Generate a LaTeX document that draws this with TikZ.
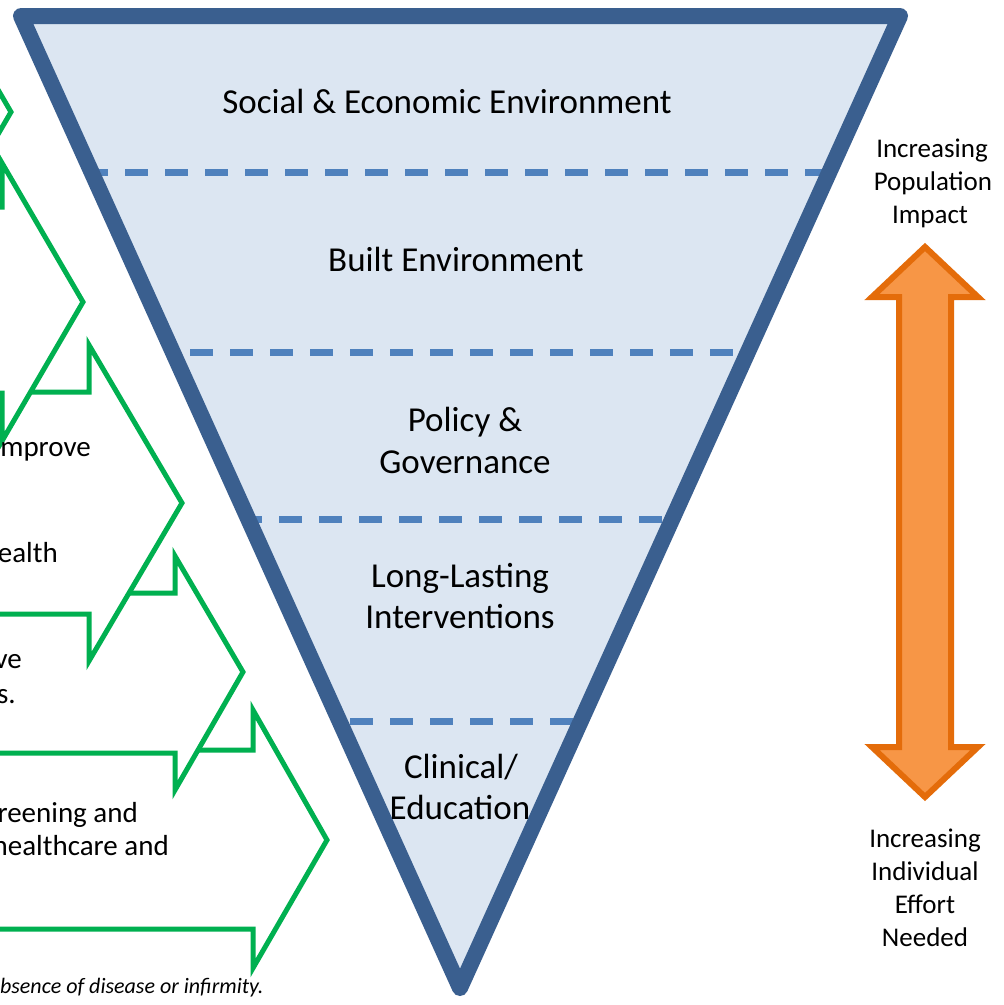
\documentclass[tikz,border=0pt]{standalone}
\usepackage{fontspec}
\setmainfont{Carlito}
\definecolor{triblue}{HTML}{3A5F8F}
\definecolor{trifill}{HTML}{DCE6F2}
\definecolor{dashblue}{HTML}{4F81BD}
\definecolor{grn}{HTML}{00B050}
\definecolor{orfill}{HTML}{F79646}
\definecolor{ordraw}{HTML}{E46C0A}
\begin{document}
\begin{tikzpicture}[x=1pt,y=-1pt,
  tierline/.style={draw=dashblue, line width=7pt, dash pattern=on 23pt off 17pt},
  greenarrow/.style={draw=grn, fill=white, line width=5pt, line join=miter},
  tiertext/.style={font=\fontsize{35}{42}\selectfont, anchor=base, inner sep=0pt},
  sidetext/.style={font=\fontsize{27}{33}\selectfont, anchor=base, inner sep=0pt},
  lefttext/.style={font=\fontsize{29}{36}\selectfont, anchor=base east, inner sep=0pt},
]
\useasboundingbox (0,0) rectangle (1004,1005);
\fill[white] (0,0) rectangle (1004,1005);

% green block arrows (cut off at the left edge), lower ones first
\draw[greenarrow] (-30,750) -- (253,750) -- (253,710) -- (327,840) -- (253,968) -- (253,929) -- (-30,929) -- cycle;
\draw[greenarrow] (-30,593) -- (175,593) -- (175,556) -- (243,672) -- (175,790) -- (175,753) -- (-30,753) -- cycle;
\draw[greenarrow] (-30,392) -- (89,392) -- (89,345) -- (182,503) -- (89,661) -- (89,614) -- (-30,614) -- cycle;
\draw[greenarrow] (-100,207) -- (2,207) -- (2,163) -- (83,302) -- (2,441) -- (2,393) -- (-100,393) -- cycle;
\draw[greenarrow] (-150,-30) -- (-70,-30) -- (-70,-27) -- (11,112) -- (-70,251) -- (-70,207) -- (-150,207) -- cycle;

% left text fragments
\node[lefttext] (t1) at (91,456) {mprove};
\node[lefttext] (t2) at (58,562) {ealth};
\node[lefttext] (t3) at (22,668) {ve};
\node[lefttext] (t4) at (16,703) {s.};
\node[lefttext] (t5) at (138,822) {reening and};
\node[lefttext] (t6) at (169,855) {healthcare and};
\node[font=\fontsize{22}{26}\selectfont\itshape, anchor=base west, inner sep=0pt] (t7) at (0,993) {bsence of disease or infirmity.};

% inverted triangle
\fill[trifill] (21,16) -- (900,16) -- (460,988) -- cycle;
\draw[tierline, dash phase=6pt] (91,172) -- (830,172);
\draw[tierline, dash phase=23pt] (173,352) -- (748,352);
\draw[tierline, dash phase=9pt] (248,519) -- (672,519);
\draw[tierline, dash phase=29pt] (339,721) -- (581,721);
\draw[triblue, line width=16pt, line join=round] (21,16) -- (900,16) -- (460,988) -- cycle;

% tier labels
\node[tiertext] (soc) at (447,113) {Social \& Economic Environment};
\node[tiertext] (built) at (456,271) {Built Environment};
\node[tiertext] (pol1) at (465,431) {Policy \&};
\node[tiertext] (pol2) at (465,473) {Governance};
\node[tiertext] (long1) at (460,587) {Long-Lasting};
\node[tiertext] (long2) at (460,628) {Interventions};
\node[tiertext] (cli1) at (461,778) {Clinical/};
\node[tiertext] (cli2) at (460,819) {Education};

% orange double arrow
\draw[draw=ordraw, fill=orfill, line width=6pt, line join=miter]
  (925,247) -- (978,297) -- (951,297) -- (951,747) -- (978,747) -- (925,797)
  -- (872,747) -- (899,747) -- (899,297) -- (872,297) -- cycle;

% side labels
\node[sidetext] (up1) at (932,157) {Increasing};
\node[sidetext] (up2) at (933,190) {Population};
\node[sidetext] (up3) at (930,223) {Impact};
\node[sidetext] (dn1) at (925,847) {Increasing};
\node[sidetext] (dn2) at (925,880) {Individual};
\node[sidetext] (dn3) at (925,913) {Effort};
\node[sidetext] (dn4) at (925,946) {Needed};
\end{tikzpicture}
\end{document}
